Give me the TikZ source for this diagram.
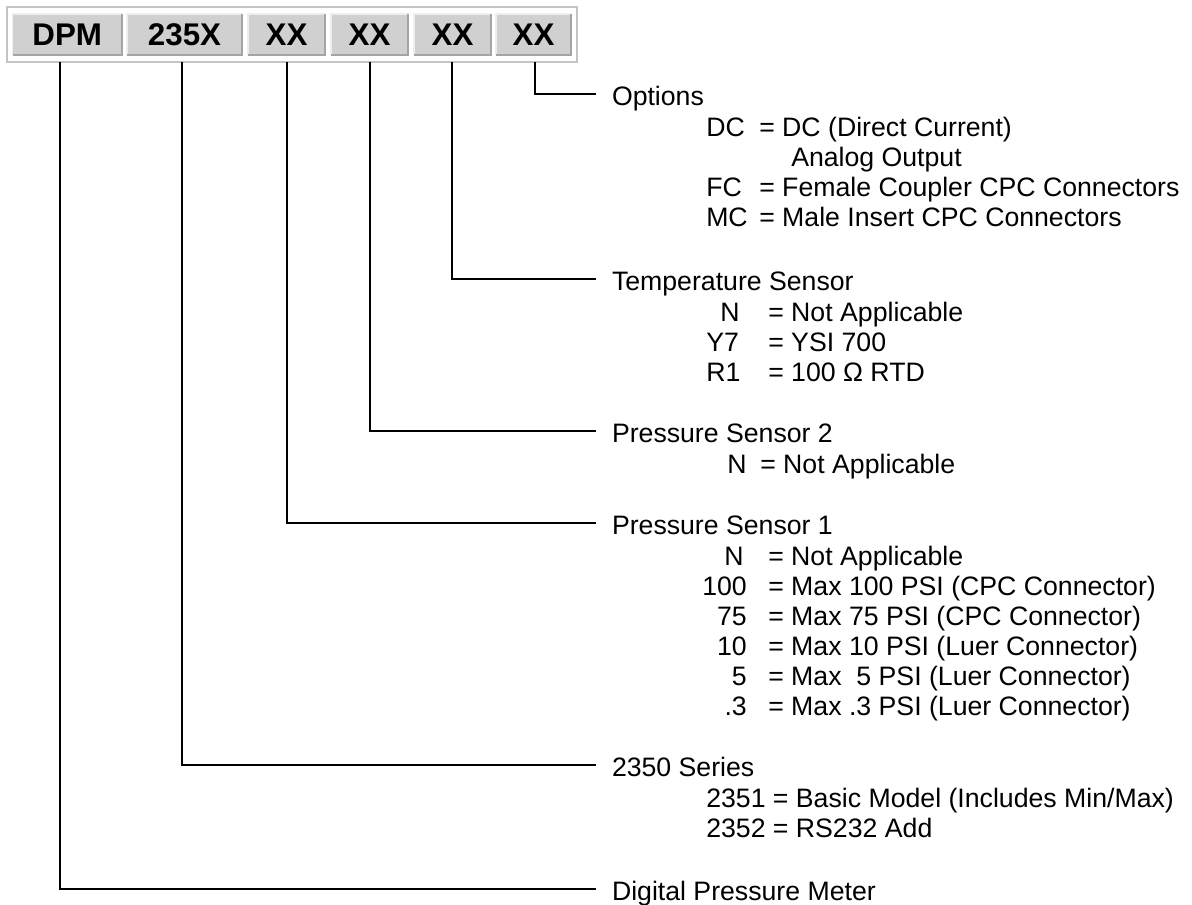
\documentclass[tikz,border=0pt]{standalone}
\usepackage{fontspec}
\setmainfont{Liberation Sans}
\definecolor{boxgray}{HTML}{D0D0D0}
\definecolor{framegray}{HTML}{C4C4C4}
\definecolor{bevellight}{HTML}{EEEEEE}
\definecolor{beveldark}{HTML}{A4A4A4}
\begin{document}
\begin{tikzpicture}[x=0.75pt,y=-0.75pt,
  hbox/.style={fill=boxgray, minimum height=30.75pt, inner sep=0pt, outer sep=0pt,
    text height=16.8pt, text depth=0pt, font=\fontsize{23.5}{26}\selectfont\bfseries},
  head/.style={anchor=west, inner sep=0pt, outer xsep=12pt, outer ysep=0pt,
    text height=17.25pt, text depth=0pt, font=\fontsize{20}{22.5}\selectfont},
  item/.style={anchor=base west, inner sep=0pt, font=\fontsize{20}{22.5}\selectfont},
  code/.style={anchor=base east, inner sep=0pt, font=\fontsize{20}{22.5}\selectfont},
  conn/.style={draw=black, line width=1.3pt},
  lite/.style={draw=bevellight, line width=1.1pt},
  dark/.style={draw=beveldark, line width=1.1pt}]
\useasboundingbox (0,0) rectangle (1192,905);
% header frame
\node[draw=framegray, line width=1.5pt, fill=white, minimum width=427.5pt,
  minimum height=41.25pt, inner sep=0pt, outer sep=0pt] (frame) at (292,34.5) {};
% header boxes
\node[hbox, minimum width=82.1pt] (dpm) at (67.25,34.5) {DPM};
\node[hbox, minimum width=86.25pt] (ser) at (184.5,34.5) {235X};
\node[hbox, minimum width=57.75pt] (xa) at (286.5,34.5) {XX};
\node[hbox, minimum width=57.75pt] (xb) at (369.5,34.5) {XX};
\node[hbox, minimum width=57.75pt] (xc) at (452.5,34.5) {XX};
\node[hbox, minimum width=56.25pt] (xd) at (533.5,34.5) {XX};
\foreach \b in {dpm,ser,xa,xb,xc,xd}{
  \draw[lite] (\b.south west) |- (\b.north east);
  \draw[dark] (\b.south west) -| (\b.north east);
}
% connector start points on the frame bottom
\path (dpm.south |- frame.south) ++(-7.25,0) coordinate (sdpm);
\path (ser.south |- frame.south) ++(-2.5,0) coordinate (sser);
\path (xa.south |- frame.south) ++(0.5,0) coordinate (sxa);
\path (xb.south |- frame.south) ++(0.5,0) coordinate (sxb);
\path (xc.south |- frame.south) ++(-0.5,0) coordinate (sxc);
\path (xd.south |- frame.south) ++(1.5,0) coordinate (sxd);
% Options
\node[head] (hopt) at (596,94) {Options};
\node[item] (opt1c) at (706,136.5) {DC};
\node[item] (opt1) at (759,136.5) {= DC (Direct Current)};
\node[item] (opt2) at (791,166.5) {Analog Output};
\node[item] (opt3c) at (706,196.5) {FC};
\node[item] (opt3) at (759,196.5) {= Female Coupler CPC Connectors};
\node[item] (opt4c) at (706,226.5) {MC};
\node[item] (opt4) at (759,226.5) {= Male Insert CPC Connectors};
% Temperature Sensor
\node[head] (htmp) at (596,279) {Temperature Sensor};
\node[item] (tmp1c) at (720,321.5) {N};
\node[item] (tmp1) at (768,321.5) {= Not Applicable};
\node[item] (tmp2c) at (706,351.5) {Y7};
\node[item] (tmp2) at (768,351.5) {= YSI 700};
\node[item] (tmp3c) at (706,381.5) {R1};
\node[item] (tmp3) at (768,381.5) {= 100 Ω RTD};
% Pressure Sensor 2
\node[head] (hps2) at (596,431) {Pressure Sensor 2};
\node[item] (ps2c) at (727,473.5) {N};
\node[item] (ps2) at (760,473.5) {= Not Applicable};
% Pressure Sensor 1
\node[head] (hps1) at (596,523) {Pressure Sensor 1};
\node[code] (ps1ac) at (744,565.5) {N};
\node[item] (ps1a) at (768,565.5) {= Not Applicable};
\node[code] (ps1bc) at (747,595.5) {100};
\node[item] (ps1b) at (768,595.5) {= Max 100 PSI (CPC Connector)};
\node[code] (ps1cc) at (747,625.5) {75};
\node[item] (ps1c) at (768,625.5) {= Max 75 PSI (CPC Connector)};
\node[code] (ps1dc) at (747,655.5) {10};
\node[item] (ps1d) at (768,655.5) {= Max 10 PSI (Luer Connector)};
\node[code] (ps1ec) at (747,685.5) {5};
\node[item] (ps1e) at (768,685.5) {= Max\ \ 5 PSI (Luer Connector)};
\node[code] (ps1fc) at (747,715.5) {.3};
\node[item] (ps1f) at (768,715.5) {= Max .3 PSI (Luer Connector)};
% 2350 Series
\node[head] (hser) at (596,765) {2350 Series};
\node[item] (ser1) at (706,807.5) {2351 = Basic Model (Includes Min/Max)};
\node[item] (ser2) at (706,837.5) {2352 = RS232 Add};
% Digital Pressure Meter
\node[head] (hdpm) at (596,889) {Digital Pressure Meter};
% connectors
\draw[conn] (sxd) |- (hopt.west);
\draw[conn] (sxc) |- (htmp.west);
\draw[conn] (sxb) |- (hps2.west);
\draw[conn] (sxa) |- (hps1.west);
\draw[conn] (sser) |- (hser.west);
\draw[conn] (sdpm) |- (hdpm.west);
\end{tikzpicture}
\end{document}
